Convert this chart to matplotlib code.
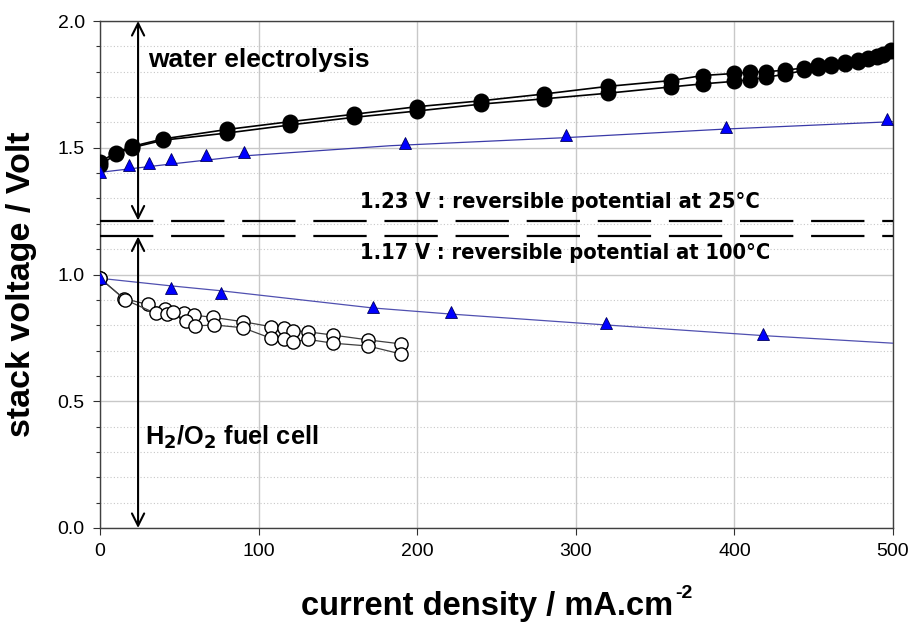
import matplotlib
matplotlib.use("Agg")
import matplotlib.pyplot as plt
from matplotlib.ticker import MultipleLocator
from matplotlib import font_manager
import numpy as np

plt.rcParams['font.family'] = ['Liberation Sans', 'DejaVu Sans']

# ---- data ----
# water electrolysis, two runs (filled circles)
ec1_x = [0, 10, 20, 40, 80, 120, 160, 200, 240, 280, 320, 360, 380, 400, 410, 420, 432, 444, 453, 461, 470, 478, 484, 490, 494, 499]
ec1_y = [1.445, 1.48, 1.505, 1.535, 1.572, 1.603, 1.632, 1.662, 1.685, 1.712, 1.742, 1.765, 1.785, 1.793, 1.798, 1.800, 1.806, 1.815, 1.825, 1.830, 1.838, 1.846, 1.855, 1.862, 1.868, 1.884]
ec2_x = [0, 10, 20, 40, 80, 120, 160, 200, 240, 280, 320, 360, 380, 400, 410, 420, 432, 444, 453, 461, 470, 478, 484, 490, 494, 499]
ec2_y = [1.43, 1.475, 1.50, 1.53, 1.558, 1.59, 1.62, 1.645, 1.672, 1.693, 1.715, 1.74, 1.752, 1.762, 1.768, 1.778, 1.790, 1.805, 1.815, 1.822, 1.830, 1.840, 1.850, 1.857, 1.864, 1.880]
# electrolysis, triangles and trend curve
ect_x = [0, 18, 31, 45, 67, 91, 192, 294, 395, 496]
ect_y = [1.403, 1.432, 1.438, 1.456, 1.471, 1.485, 1.519, 1.550, 1.583, 1.612]
ecl_x = [0, 45, 91, 183, 294, 395, 500]
ecl_y = [1.403, 1.436, 1.468, 1.508, 1.540, 1.574, 1.603]

# fuel cell, two runs (open circles)
fc1_x = [0, 15, 30, 41, 53, 59, 71, 90, 108, 116, 122, 131, 147, 169, 190]
fc1_y = [0.985, 0.905, 0.882, 0.863, 0.847, 0.840, 0.831, 0.814, 0.794, 0.788, 0.778, 0.774, 0.761, 0.742, 0.726]
fc2_x = [0, 16, 35, 42, 46, 54, 60, 72, 90, 108, 116, 122, 131, 147, 169, 190]
fc2_y = [0.985, 0.900, 0.847, 0.843, 0.853, 0.817, 0.797, 0.801, 0.790, 0.748, 0.744, 0.735, 0.744, 0.729, 0.718, 0.686]
# fuel cell, triangles and trend curve
fct_x = [0, 45, 76, 172, 221, 319, 418]
fct_y = [0.985, 0.945, 0.926, 0.873, 0.851, 0.807, 0.765]
fcl_x = [0, 45, 76, 172, 221, 319, 418, 500]
fcl_y = [0.985, 0.955, 0.936, 0.868, 0.844, 0.801, 0.759, 0.729]

# reversible potentials (drawn positions)
rev_levels = [1.213, 1.150]
rev_labels = ["1.23 V : reversible potential at 25°C", "1.17 V : reversible potential at 100°C"]
arrow_x = 24

x_ticks = [0, 100, 200, 300, 400, 500]
y_ticks = [0.0, 0.5, 1.0, 1.5, 2.0]

W, H = 911, 622

# pick a condensed bold font if available
narrow_prop = None
for f in font_manager.fontManager.ttflist:
    nm = f.name.lower()
    bold = (f.weight in ('bold', 700, 'heavy') or (isinstance(f.weight, int) and f.weight >= 600))
    if bold and ('narrow' in nm or 'condensed' in nm or f.stretch in ('condensed', 'semi-condensed', 'extra-condensed')) and f.style == 'normal':
        narrow_prop = font_manager.FontProperties(fname=f.fname)
        break
if narrow_prop is None:
    narrow_prop = font_manager.FontProperties(family=['Liberation Sans', 'DejaVu Sans'], weight='bold')

# ---- figure ----
fig = plt.figure(figsize=(W/100, H/100), dpi=100)
ax = fig.add_axes([100/W, 94/H, 793/W, 507/H])
ax.set_xlim(0, 500)
ax.set_ylim(0, 2.0)

ax.set_xticks(x_ticks)
ax.set_yticks(y_ticks)
ax.set_yticklabels([f"{v:.1f}" for v in y_ticks])
ax.yaxis.set_minor_locator(MultipleLocator(0.1))
ax.tick_params(axis='both', which='major', direction='out', length=5, width=0.8,
               labelsize=14, colors='#303030', labelcolor='black', pad=6)
ax.tick_params(axis='y', which='minor', direction='out', length=3, width=0.8, colors='#303030')
ax.grid(True, which='major', color='#c8c8c8', lw=1.0, zorder=0)
ax.grid(True, which='minor', axis='y', color='#c8c8c8', lw=0.8, ls=(0, (1, 2)), zorder=0)
ax.set_axisbelow(True)
for s in ax.spines.values():
    s.set_color('#404040')
    s.set_linewidth(1.0)

# electrolysis
ax.plot(ec1_x, ec1_y, '-', color='black', lw=1.2, marker='o', ms=10.5, mfc='black', mec='black', zorder=4)
ax.plot(ec2_x, ec2_y, '-', color='black', lw=1.2, marker='o', ms=10.5, mfc='black', mec='black', zorder=4)
ax.plot(ecl_x, ecl_y, '-', color='#3a3aa8', lw=0.9, zorder=3)
ax.plot(ect_x, ect_y, '^', ms=9, mfc='#0000ff', mec='#000060', mew=0.6, zorder=5)

# fuel cell
ax.plot(fc1_x, fc1_y, '-', color='#404040', lw=0.9, marker='o', ms=9.5, mfc='white', mec='black', mew=1.0, zorder=4)
ax.plot(fc2_x, fc2_y, '-', color='#404040', lw=0.9, marker='o', ms=9.5, mfc='white', mec='black', mew=1.0, zorder=4)
ax.plot(fcl_x, fcl_y, '-', color='#5050b0', lw=0.9, zorder=3)
ax.plot(fct_x, fct_y, '^', ms=9, mfc='#0000ff', mec='#000060', mew=0.6, zorder=5)

# reversible potential lines
for lvl in rev_levels:
    ax.axhline(lvl, color='black', lw=1.6, ls=(0, (24, 8)), zorder=3)

# reversible potential labels (pixel-positioned, width-fitted)
renderer = fig.canvas.get_renderer()
label_specs = [(559.5, 202, 401), (565.5, 253, 413)]
for txt, (cx, cy, tw) in zip(rev_labels, label_specs):
    t = fig.text(cx / W, 1 - cy / H, txt, ha='center', va='center', fontproperties=narrow_prop, fontsize=16)
    w = t.get_window_extent(renderer).width
    t.set_fontsize(min(max(16 * tw / w, 12), 20))

# arrows
arrow_kw = dict(arrowstyle='<->', color='black', lw=1.5, mutation_scale=22, shrinkA=0, shrinkB=0)
ax.annotate('', xy=(arrow_x, 2.0), xytext=(arrow_x, rev_levels[0]), arrowprops=arrow_kw, zorder=6)
ax.annotate('', xy=(arrow_x, 0.0), xytext=(arrow_x, rev_levels[1]), arrowprops=arrow_kw, zorder=6)

ax.text(30, 1.846, "water electrolysis", fontsize=19, fontweight='bold', va='center', ha='left')
ax.text(28.5, 0.359, r"H$_\mathbf{2}$/O$_\mathbf{2}$ fuel cell", fontsize=18.3, fontweight='bold', va='center', ha='left')

# axis titles
fig.text(673 / W, 1 - 615 / H, "current density / mA.cm", ha='right', va='baseline',
         fontsize=23.5, fontweight='bold')
fig.text(675 / W, 1 - 598 / H, "-2", ha='left', va='baseline', fontsize=14, fontweight='bold')
fig.text(22 / W, 1 - 284 / H, "stack voltage / Volt", ha='center', va='center', rotation=90,
         fontsize=24.5, fontweight='bold')

fig.savefig("out.png", dpi=100)
